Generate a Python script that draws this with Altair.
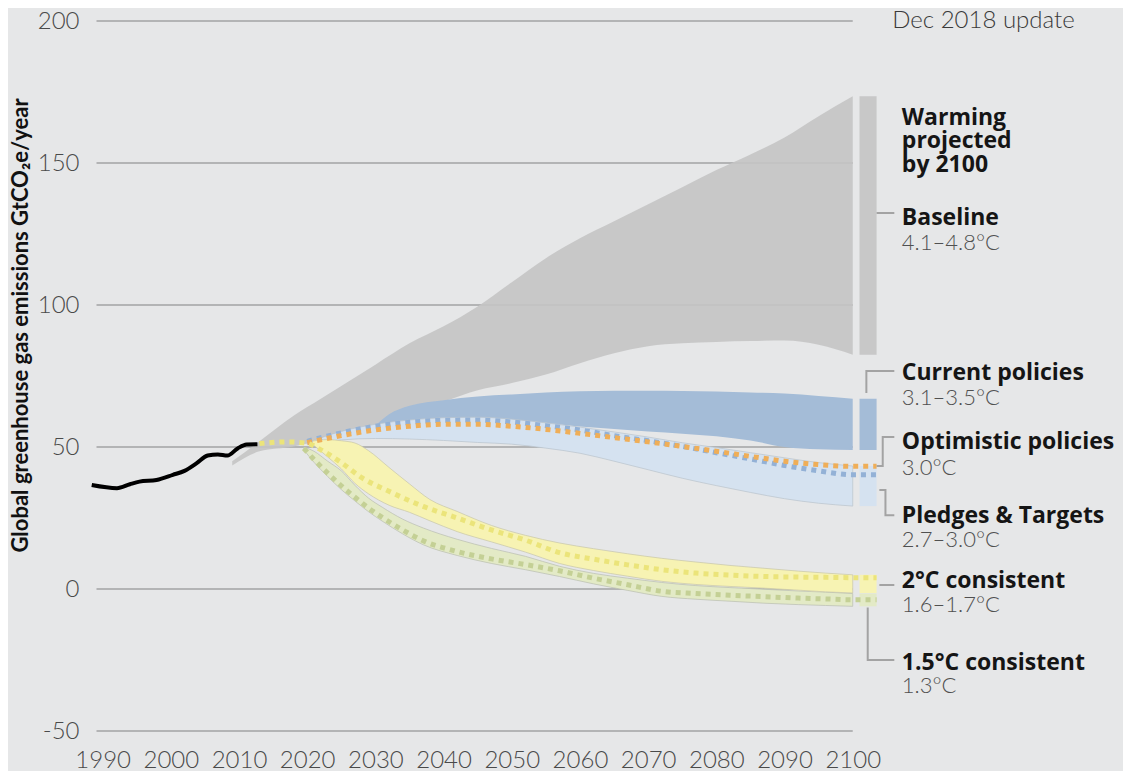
import altair as alt
import pandas as pd

# ---------------- data ----------------
x_ticks = [1990, 2000, 2010, 2020, 2030, 2040, 2050, 2060, 2070, 2080, 2090, 2100]
y_ticks = [-50, 0, 50, 100, 150, 200]

hist_years = [1988.4, 1992.1, 1994.0, 1995.4, 1997.9, 2000.3, 2002.0, 2003.8, 2005.4, 2006.9, 2008.3, 2009.8, 2011.1, 2012.7]
hist_vals = [36.6, 35.5, 36.9, 37.8, 38.4, 40.2, 41.6, 44.3, 47.0, 47.4, 47.0, 49.5, 50.9, 51.0]

base_years = [2009, 2013, 2018, 2022, 2026, 2030, 2035, 2040, 2045, 2050, 2055, 2060, 2065, 2070, 2075, 2080, 2085, 2090, 2095, 2100]
base_lo = [43.5, 48.5, 50.2, 52.5, 55.0, 57.0, 62.0, 66.0, 70.0, 72.5, 75.5, 79.5, 83.0, 85.5, 86.5, 87.0, 87.3, 87.5, 86.0, 82.5]
base_hi = [45.0, 52.0, 61.0, 67.0, 73.0, 79.0, 86.5, 92.5, 99.5, 108.0, 116.5, 123.5, 129.5, 135.5, 141.5, 147.5, 153.0, 159.0, 166.5, 173.5]

cur_years = [2030, 2032, 2035, 2040, 2045, 2050, 2055, 2060, 2065, 2070, 2075, 2080, 2085, 2090, 2095, 2100]
cur_lo = [57.5, 57.8, 58.5, 59.3, 60.0, 59.3, 58.3, 57.2, 56.3, 55.5, 54.7, 53.8, 52.3, 50.0, 49.2, 48.9]
cur_hi = [57.5, 61.5, 64.5, 66.5, 67.8, 68.5, 69.2, 69.6, 69.8, 69.8, 69.7, 69.5, 69.2, 68.8, 68.0, 67.0]

pl_years = [2020, 2025, 2030, 2035, 2040, 2045, 2050, 2055, 2060, 2065, 2070, 2075, 2080, 2085, 2090, 2095, 2100]
pl_lo = [51.0, 52.5, 53.0, 52.8, 52.3, 51.6, 51.0, 49.6, 47.8, 45.0, 42.0, 39.0, 36.4, 34.0, 31.8, 30.2, 29.2]
pl_hi = [51.5, 55.5, 58.0, 59.5, 60.3, 60.5, 59.8, 58.5, 57.0, 55.3, 53.5, 51.5, 49.8, 48.0, 46.2, 44.5, 43.3]

dash_years = [2020, 2025, 2030, 2035, 2040, 2045, 2050, 2055, 2060, 2065, 2070, 2075, 2080, 2085, 2090, 2095, 2100]
opt_vals = [51.5, 54.0, 56.0, 57.3, 58.0, 58.0, 57.3, 56.2, 54.8, 53.3, 51.8, 50.2, 48.5, 46.7, 45.0, 43.8, 43.2]
pled_med_vals = [52.0, 55.0, 57.3, 58.7, 59.4, 59.5, 58.8, 57.5, 56.0, 54.0, 52.2, 50.2, 48.0, 45.8, 43.5, 41.6, 40.2]

two_years = [2020.5, 2023, 2025, 2027, 2029, 2032, 2035, 2038, 2042, 2047, 2052, 2057, 2062, 2067, 2072, 2077, 2082, 2087, 2092, 2096, 2100]
two_hi = [52.0, 52.6, 52.2, 51.4, 48.7, 42.8, 37.0, 31.5, 27.3, 22.4, 18.9, 16.2, 14.2, 12.4, 10.8, 9.5, 8.3, 7.3, 6.3, 5.6, 5.0]
two_lo = [51.5, 46.5, 42.3, 37.2, 33.5, 29.5, 27.0, 24.0, 20.2, 16.6, 13.0, 9.0, 6.5, 4.5, 2.7, 1.6, 0.9, 0.3, -0.4, -1.0, -1.4]

two_med_years = [2013, 2017, 2020, 2022, 2025, 2028, 2032, 2037, 2042, 2047, 2052, 2057, 2062, 2067, 2072, 2077, 2082, 2087, 2092, 2096, 2100]
two_med = [51.2, 51.8, 51.3, 49.0, 44.5, 39.2, 34.4, 29.1, 25.0, 20.8, 17.2, 12.8, 10.5, 8.5, 6.8, 5.6, 4.9, 4.4, 4.2, 4.1, 4.0]

one5_years = [2019.5, 2021, 2023, 2025, 2027, 2029, 2031, 2034, 2037, 2042, 2047, 2052, 2057, 2062, 2067, 2072, 2077, 2082, 2087, 2092, 2096, 2100]
one5_lo = [49.0, 44.6, 39.6, 35.0, 31.0, 27.2, 23.9, 19.4, 15.6, 11.8, 9.0, 6.8, 4.4, 1.8, -0.5, -2.6, -3.6, -4.3, -5.0, -5.5, -5.8, -6.1]
one5_hi = [50.0, 48.5, 45.0, 41.6, 36.5, 32.0, 28.8, 24.6, 21.5, 17.5, 14.3, 11.5, 8.0, 5.5, 3.8, 2.3, 1.2, 0.5, -0.1, -0.7, -1.1, -1.6]
one5_med = [49.5, 45.6, 40.8, 36.3, 32.3, 28.5, 25.2, 20.8, 17.0, 13.2, 10.6, 8.6, 6.4, 3.8, 1.5, -0.8, -1.6, -2.2, -2.7, -3.2, -3.5, -3.8]

# side bars (range in 2100) and grid extents, in years
SIDE_X0, SIDE_X1 = 2101.0, 2103.5
GRID_X0, GRID_X1 = 1989.1, 2100.0

label_x = 2107.2
head_text = ["Warming", "projected", "by 2100", "Baseline", "Current policies",
             "Optimistic policies", "Pledges & Targets", "2°C consistent", "1.5°C consistent"]
head_y = [163.4, 155.3, 146.8, 128.2, 73.6, 49.3, 23.2, 0.35, -28.5]
sub_text = ["4.1–4.8°C", "3.1–3.5°C", "3.0°C", "2.7–3.0°C", "1.6–1.7°C", "1.3°C"]
sub_y = [119.4, 64.8, 40.1, 14.8, -8.1, -36.6]
update_text = ["Dec 2018 update"]
update_x = [2105.8]
update_y = [197.5]

conn_group = ["b", "b", "c", "c", "c", "o", "o", "o", "o", "p", "p", "p", "p", "t", "t", "f", "f", "f"]
conn_x = [2103.5, 2106.1, 2102.0, 2102.0, 2106.1, 2103.5, 2104.4, 2104.4, 2106.1,
          2103.9, 2104.8, 2104.8, 2106.1, 2103.9, 2106.1, 2102.2, 2102.2, 2106.1]
conn_y = [132.4, 132.4, 69.0, 76.8, 76.8, 43.3, 43.3, 53.5, 53.5,
          34.9, 34.9, 26.0, 26.0, 1.4, 1.4, -6.5, -25.0, -25.0]

# ---------------- styles ----------------
BG = "#e6e7e8"
FONT = "Lato"
HEAD_FONT = "Open Sans"
xs = alt.Scale(domain=[1988, 2104], nice=False, zero=False)
ys = alt.Scale(domain=[-50, 200], nice=False, zero=False)

XA = alt.Axis(values=x_ticks, format="d", domain=False, ticks=False, grid=False, title=None,
              labelFont=FONT, labelFontSize=24, labelFontWeight=300,
              labelColor="#4a4a4a", labelPadding=17, labelFlush=False)
YA = alt.Axis(values=y_ticks, domain=False, ticks=False, grid=False,
              labelExpr="'' + datum.value",
              labelFont=FONT, labelFontSize=24, labelFontWeight=300,
              labelColor="#4a4a4a", labelPadding=10,
              title="Global greenhouse gas emissions GtCO₂e/year",
              titleFont=FONT, titleFontSize=22, titleFontWeight="bold",
              titleColor="#111111", titleX=-57, titleY=304)


def ex(field):
    return alt.X(field, scale=xs, axis=XA)


def ey(field):
    return alt.Y(field, scale=ys, axis=YA)


def band(years, lo, hi, color, opacity=1.0, stroke=None):
    df = pd.DataFrame({"year": years, "lo": lo, "hi": hi})
    kw = dict(color=color, opacity=opacity, interpolate="monotone")
    if stroke:
        kw.update(stroke=stroke, strokeWidth=1, strokeOpacity=0.7)
    main = alt.Chart(df).mark_area(**kw).encode(x=ex("year:Q"), y=ey("hi:Q"), y2="lo:Q")
    side_df = pd.DataFrame({"x0": [SIDE_X0], "x1": [SIDE_X1], "lo": [lo[-1]], "hi": [hi[-1]]})
    side = alt.Chart(side_df).mark_rect(color=color, opacity=opacity).encode(
        x=ex("x0:Q"), x2="x1:Q", y=ey("hi:Q"), y2="lo:Q")
    return main + side


def dashed(years, vals, color):
    df = pd.DataFrame({"year": list(years) + [SIDE_X1], "v": list(vals) + [vals[-1]]})
    return alt.Chart(df).mark_line(color=color, strokeWidth=5, strokeDash=[5, 5],
                                   interpolate="monotone", strokeCap="butt").encode(
        x=ex("year:Q"), y=ey("v:Q"))


grid_df = pd.DataFrame({"v": y_ticks, "x0": [GRID_X0] * len(y_ticks), "x1": [GRID_X1] * len(y_ticks)})
grid = alt.Chart(grid_df).mark_rule(color="#b3b4b5", strokeWidth=2).encode(
    x=ex("x0:Q"), x2="x1:Q", y=ey("v:Q"))

hist = alt.Chart(pd.DataFrame({"year": hist_years, "v": hist_vals})).mark_line(
    color="#000000", strokeWidth=4, interpolate="monotone").encode(x=ex("year:Q"), y=ey("v:Q"))

conn = alt.Chart(pd.DataFrame({"g": conn_group, "x": conn_x, "y": conn_y,
                               "o": list(range(len(conn_x)))})).mark_line(
    color="#a3a3a3", strokeWidth=2).encode(
    x=ex("x:Q"), y=ey("y:Q"), detail="g:N", order="o:Q")

heads = alt.Chart(pd.DataFrame({"t": head_text, "x": [label_x] * len(head_text), "y": head_y})).mark_text(
    align="left", baseline="alphabetic", font=HEAD_FONT, fontSize=23, fontWeight="bold", color="#151515").encode(
    x=ex("x:Q"), y=ey("y:Q"), text="t:N")

subs = alt.Chart(pd.DataFrame({"t": sub_text, "x": [label_x] * len(sub_text), "y": sub_y})).mark_text(
    align="left", baseline="alphabetic", font=FONT, fontSize=22, fontWeight=300, color="#505050").encode(
    x=ex("x:Q"), y=ey("y:Q"), text="t:N")

upd = alt.Chart(pd.DataFrame({"t": update_text, "x": update_x, "y": update_y})).mark_text(
    align="left", baseline="alphabetic", font=FONT, fontSize=24, fontWeight=300, color="#3a3a3a").encode(
    x=ex("x:Q"), y=ey("y:Q"), text="t:N")

chart = alt.layer(
    grid,
    band(base_years, base_lo, base_hi, "#c4c4c4", opacity=0.9),
    band(cur_years, cur_lo, cur_hi, "#a4bcd7"),
    band(pl_years, pl_lo, pl_hi, "#d5e2f0", stroke="#b9c3cc"),
    band(one5_years, one5_lo, one5_hi, "#e3eac6", stroke="#b9bdb0"),
    band(two_years, two_lo, two_hi, "#f7f3b3", stroke="#c8c6a8"),
    dashed(dash_years, pled_med_vals, "#93b1d6"),
    dashed(dash_years, opt_vals, "#efae58"),
    dashed(one5_years, one5_med, "#c4d095"),
    dashed(two_med_years, two_med, "#ebe47a"),
    hist,
    conn,
    heads,
    subs,
    upd,
).properties(
    width=791, height=710,
    autosize=alt.AutoSizeParams(type="none"),
    padding={"left": 81, "top": 13, "right": 243, "bottom": 40},
    background=BG,
).configure_view(stroke=None)

chart.save("out.html", embed_options={"renderer": "svg", "actions": False})
